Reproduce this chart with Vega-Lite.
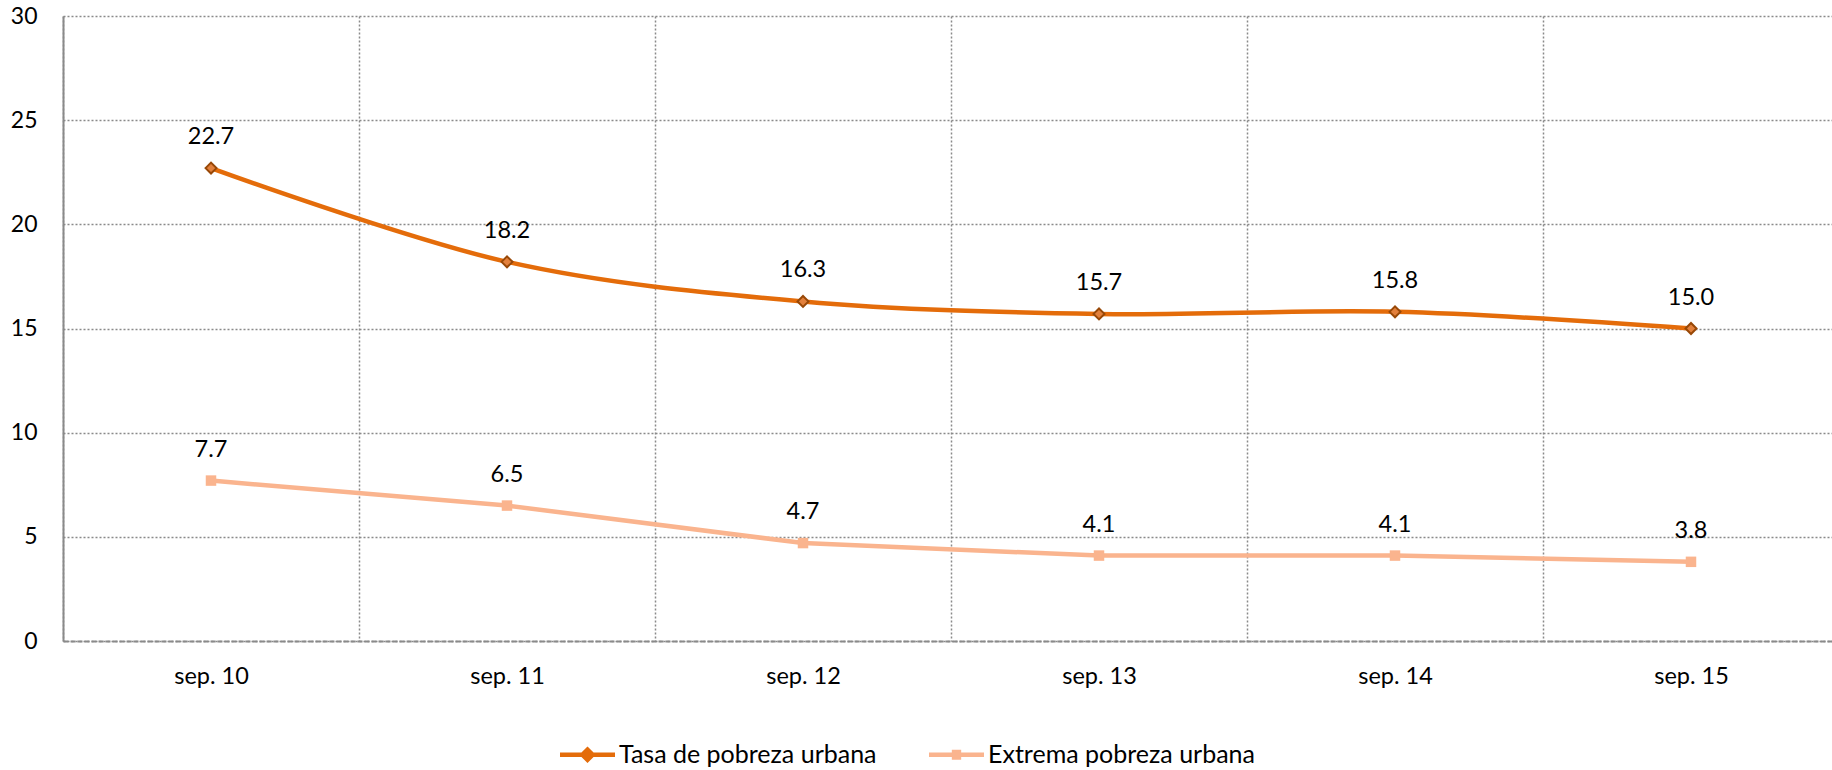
{
  "$schema": "https://vega.github.io/schema/vega-lite/v6.json",
  "width": 1769,
  "height": 625,
  "autosize": {"type": "none"},
  "padding": {"left": 63, "top": 16, "right": 0, "bottom": 129},
  "background": "white",
  "config": {"view": {"stroke": null}, "font": "Lato"},
  "data": {
    "values": [
      {"periodo": "sep. 10", "serie": "Tasa de pobreza urbana", "valor": 22.7},
      {"periodo": "sep. 11", "serie": "Tasa de pobreza urbana", "valor": 18.2},
      {"periodo": "sep. 12", "serie": "Tasa de pobreza urbana", "valor": 16.3},
      {"periodo": "sep. 13", "serie": "Tasa de pobreza urbana", "valor": 15.7},
      {"periodo": "sep. 14", "serie": "Tasa de pobreza urbana", "valor": 15.8},
      {"periodo": "sep. 15", "serie": "Tasa de pobreza urbana", "valor": 15.0},
      {"periodo": "sep. 10", "serie": "Extrema pobreza urbana", "valor": 7.7},
      {"periodo": "sep. 11", "serie": "Extrema pobreza urbana", "valor": 6.5},
      {"periodo": "sep. 12", "serie": "Extrema pobreza urbana", "valor": 4.7},
      {"periodo": "sep. 13", "serie": "Extrema pobreza urbana", "valor": 4.1},
      {"periodo": "sep. 14", "serie": "Extrema pobreza urbana", "valor": 4.1},
      {"periodo": "sep. 15", "serie": "Extrema pobreza urbana", "valor": 3.8}
    ]
  },
  "encoding": {
    "x": {
      "field": "periodo",
      "type": "ordinal",
      "sort": ["sep. 10", "sep. 11", "sep. 12", "sep. 13", "sep. 14", "sep. 15"],
      "scale": {"range": [0, 1776], "paddingInner": 0, "paddingOuter": 0},
      "axis": {
        "title": null,
        "labelAngle": 0,
        "labelFontSize": 23.5,
        "labelColor": "#000000",
        "labelBaseline": "middle",
        "labelPadding": 35,
        "ticks": false,
        "tickSize": 0,
        "tickBand": "extent",
        "grid": true,
        "gridColor": "#8a8a8a",
        "gridDash": [2, 2],
        "gridWidth": 1.5,
        "domainColor": "#8a8a8a",
        "domainDash": [5, 2],
        "domainWidth": 2
      }
    },
    "y": {
      "field": "valor",
      "type": "quantitative",
      "scale": {"domain": [0, 30], "nice": false},
      "axis": {
        "title": null,
        "values": [0, 5, 10, 15, 20, 25, 30],
        "labelFontSize": 23,
        "labelColor": "#000000",
        "labelPadding": 26,
        "ticks": false,
        "tickSize": 0,
        "grid": true,
        "gridColor": "#8a8a8a",
        "gridDash": [2, 2],
        "gridWidth": 1.5,
        "domainColor": "#8a8a8a",
        "domainWidth": 2
      }
    }
  },
  "layer": [
    {
      "transform": [{"filter": "datum.serie === 'Extrema pobreza urbana'"}],
      "mark": {"type": "line", "strokeWidth": 4.5, "interpolate": "linear"},
      "encoding": {
        "color": {
          "field": "serie",
          "type": "nominal",
          "scale": {"domain": ["Tasa de pobreza urbana", "Extrema pobreza urbana"], "range": ["#E46C0A", "#FAB48E"]},
          "legend": {
            "title": null,
            "orient": "none",
            "direction": "horizontal",
            "legendX": 497,
            "legendY": 711,
            "labelFontSize": 25,
            "labelColor": "#000000",
            "labelLimit": 400,
            "symbolSize": 3025,
            "symbolStrokeWidth": 0,
            "labelOffset": 4,
            "columnPadding": 52,
            "encode": {
              "symbols": {
                "update": {
                  "shape": {"signal": "datum.value === 'Tasa de pobreza urbana' ? 'M-1,-0.08H-0.22L0,-0.3L0.22,-0.08H1V0.08H0.22L0,0.3L-0.22,0.08H-1Z' : 'M-1,-0.08H-0.17V-0.18H0.17V-0.08H1V0.08H0.17V0.18H-0.17V0.08H-1Z'"},
                  "fill": {"signal": "datum.value === 'Tasa de pobreza urbana' ? '#E46C0A' : '#FAB48E'"},
                  "stroke": {"value": "transparent"}
                }
              }
            }
          }
        }
      }
    },
    {
      "transform": [{"filter": "datum.serie === 'Tasa de pobreza urbana'"}],
      "mark": {"type": "line", "strokeWidth": 4.5, "interpolate": "cardinal"},
      "encoding": {
        "color": {"field": "serie", "type": "nominal"}
      }
    },
    {
      "transform": [{"filter": "datum.serie === 'Tasa de pobreza urbana'"}],
      "mark": {"type": "point", "shape": "diamond", "filled": true, "opacity": 1, "size": 120, "strokeWidth": 2, "fill": "#E2803C", "stroke": "#984807"},
      "encoding": {}
    },
    {
      "transform": [{"filter": "datum.serie === 'Extrema pobreza urbana'"}],
      "mark": {"type": "point", "shape": "square", "filled": true, "opacity": 1, "size": 110, "strokeWidth": 0, "fill": "#FAB48E"},
      "encoding": {}
    },
    {
      "mark": {"type": "text", "dy": -31, "baseline": "middle", "align": "center", "fontSize": 23.5, "color": "#000000"},
      "encoding": {
        "text": {"field": "valor", "type": "quantitative", "format": ".1f"}
      }
    }
  ]
}
